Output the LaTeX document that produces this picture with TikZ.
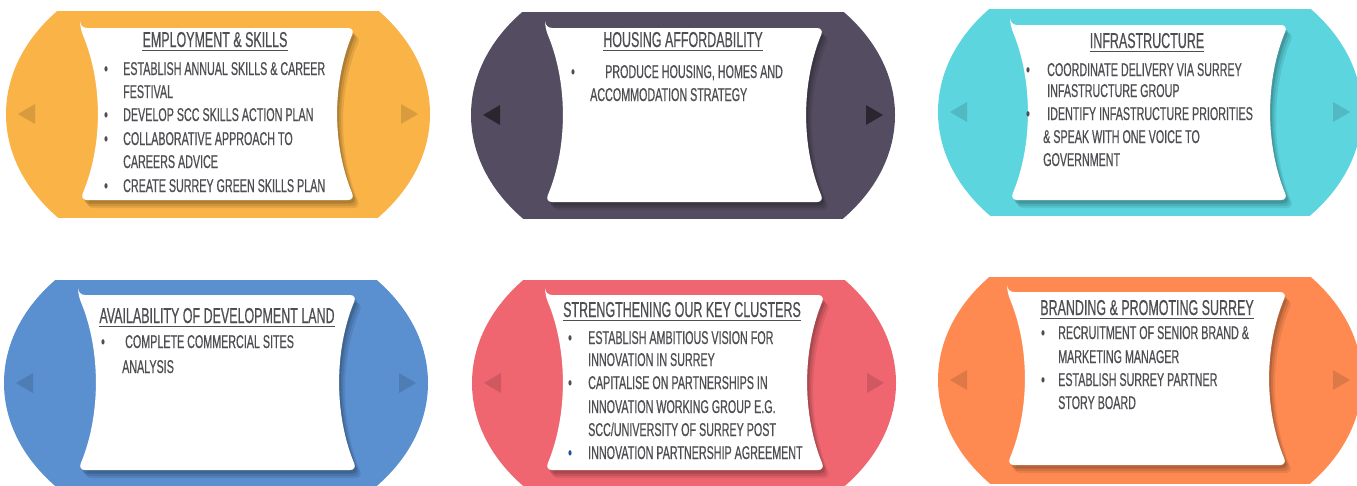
\documentclass[tikz,border=0pt]{standalone}
\usepackage{fontspec}
\setmainfont{Liberation Sans}[FakeStretch=0.58,FakeBold=0.5]
\definecolor{EmpCol}{RGB}{249,179,71}
\definecolor{HouCol}{RGB}{84,77,97}
\definecolor{InfCol}{RGB}{92,213,222}
\definecolor{LandCol}{RGB}{90,143,208}
\definecolor{CluCol}{RGB}{239,102,112}
\definecolor{BrandCol}{RGB}{254,138,82}
\definecolor{TxtCol}{RGB}{78,78,82}
\definecolor{DotCol}{RGB}{30,80,160}
\newcommand{\headsize}{\fontsize{21.5}{24}\selectfont}
\newcommand{\itemsize}{\fontsize{18.5}{22}\selectfont}
% coloured tile: centre x, centre y, colour, arrow opacity
\newcommand{\tile}[4]{%
  \begin{scope}
    \clip (#1-216,#2-103) rectangle (#1+216,#2+103);
    \fill[#3] (#1,#2) ellipse [x radius=212, y radius=158];
  \end{scope}
  \fill[black,opacity=#4] (#1-200,#2) -- (#1-183,#2-10) -- (#1-183,#2+10) -- cycle;
  \fill[black,opacity=#4] (#1+200,#2) -- (#1+183,#2-10) -- (#1+183,#2+10) -- cycle;}
% white card with hollow sides: left, top, right, bottom
\newcommand{\card}[4]{%
  \fill[white,rounded corners=7pt,
        preaction={fill=black,opacity=0.08,transform canvas={shift={(6pt,-8pt)}}},
        preaction={fill=black,opacity=0.10,transform canvas={shift={(4pt,-6pt)}}},
        preaction={fill=black,opacity=0.14,transform canvas={shift={(2pt,-3.5pt)}}}]
    (#1,#2) -- (#3,#2) .. controls (#3-23,#2+55) and (#3-23,#4-55) .. (#3,#4)
    -- (#1,#4) .. controls (#1+23,#4-55) and (#1+23,#2+55) .. cycle;}
\tikzset{
  head/.style={font=\headsize, text=TxtCol, anchor=base, inner sep=0pt},
  txt/.style={font=\itemsize, text=TxtCol, anchor=base west, inner sep=0pt},
  bul/.style={font=\itemsize, text=TxtCol, anchor=base, inner sep=0pt},
  rule/.style={draw=TxtCol, line width=1.2pt}
}
\begin{document}
\begin{tikzpicture}[x=1pt,y=-1pt]
\useasboundingbox (0,0) rectangle (1357,485);

% top row
\tile{218}{114}{EmpCol}{0.13}
\tile{683}{115}{HouCol}{0.5}
\tile{1150}{112}{InfCol}{0.13}
\card{80}{28}{355}{200}
\card{545}{28}{824}{202}
\card{1010}{25}{1288}{200}

% bottom row
\tile{216}{383}{LandCol}{0.13}
\tile{684}{383}{CluCol}{0.13}
\tile{1150}{380}{BrandCol}{0.13}
\card{78}{295}{357}{470}
\card{545}{295}{825}{470}
\card{1007}{292}{1287}{465}

% employment & skills
\node[head] (emp) at (215,47) {EMPLOYMENT \& SKILLS};
\draw[rule] ([yshift=-3pt]emp.south west) -- ([yshift=-3pt]emp.south east);
\node[bul] (emp1d) at (106,75) {\textbullet};
\node[txt] (emp1) at (123,75) {ESTABLISH ANNUAL SKILLS \& CAREER};
\node[txt] (emp1b) at (123,98) {FESTIVAL};
\node[bul] (emp2d) at (106,121) {\textbullet};
\node[txt] (emp2) at (123,121) {DEVELOP SCC SKILLS ACTION PLAN};
\node[bul] (emp3d) at (106,145) {\textbullet};
\node[txt] (emp3) at (123,145) {COLLABORATIVE APPROACH TO};
\node[txt] (emp3b) at (123,168) {CAREERS ADVICE};
\node[bul] (emp4d) at (106,192) {\textbullet};
\node[txt] (emp4) at (123,192) {CREATE SURREY GREEN SKILLS PLAN};

% housing
\node[head] (hou) at (683,47) {HOUSING AFFORDABILITY};
\draw[rule] ([yshift=-3pt]hou.south west) -- ([yshift=-3pt]hou.south east);
\node[bul] (hou1d) at (573,78) {\textbullet};
\node[txt] (hou1) at (605,78) {PRODUCE HOUSING, HOMES AND};
\node[txt] (hou1b) at (590,101) {ACCOMMODATION STRATEGY};

% infrastructure
\node[head] (inf) at (1147,48) {INFRASTRUCTURE};
\draw[rule] ([yshift=-3pt]inf.south west) -- ([yshift=-3pt]inf.south east);
\node[bul] (inf1d) at (1028,76) {\textbullet};
\node[txt] (inf1) at (1047,76) {COORDINATE DELIVERY VIA SURREY};
\node[txt] (inf1b) at (1047,97) {INFASTRUCTURE GROUP};
\node[bul] (inf2d) at (1028,120) {\textbullet};
\node[txt] (inf2) at (1047,120) {IDENTIFY INFASTRUCTURE PRIORITIES};
\node[txt] (inf2b) at (1043,143) {\& SPEAK WITH ONE VOICE TO};
\node[txt] (inf2c) at (1043,166) {GOVERNMENT};

% development land
\node[head] (land) at (217,323) {AVAILABILITY OF DEVELOPMENT LAND};
\draw[rule] ([yshift=-3pt]land.south west) -- ([yshift=-3pt]land.south east);
\node[bul] (land1d) at (103,348) {\textbullet};
\node[txt] (land1) at (125,348) {COMPLETE COMMERCIAL SITES};
\node[txt] (land1b) at (122,373) {ANALYSIS};

% key clusters
\node[head] (clu) at (682,317) {STRENGTHENING OUR KEY CLUSTERS};
\draw[rule] ([yshift=-3pt]clu.south west) -- ([yshift=-3pt]clu.south east);
\node[bul] (clu1d) at (570,344) {\textbullet};
\node[txt] (clu1) at (588,344) {ESTABLISH AMBITIOUS VISION FOR};
\node[txt] (clu1b) at (588,366) {INNOVATION IN SURREY};
\node[bul] (clu2d) at (570,389) {\textbullet};
\node[txt] (clu2) at (588,389) {CAPITALISE ON PARTNERSHIPS IN};
\node[txt] (clu2b) at (588,413) {INNOVATION WORKING GROUP E.G.};
\node[txt] (clu2c) at (588,436) {SCC/UNIVERSITY OF SURREY POST};
\node[bul,text=DotCol] (clu3d) at (570,459) {\textbullet};
\node[txt] (clu3) at (588,459) {INNOVATION PARTNERSHIP AGREEMENT};

% branding
\node[head] (bra) at (1147,315) {BRANDING \& PROMOTING SURREY};
\draw[rule] ([yshift=-3pt]bra.south west) -- ([yshift=-3pt]bra.south east);
\node[bul] (bra1d) at (1043,339) {\textbullet};
\node[txt] (bra1) at (1058,339) {RECRUITMENT OF SENIOR BRAND \&};
\node[txt] (bra1b) at (1058,363) {MARKETING MANAGER};
\node[bul] (bra2d) at (1043,386) {\textbullet};
\node[txt] (bra2) at (1058,386) {ESTABLISH SURREY PARTNER};
\node[txt] (bra2b) at (1058,409) {STORY BOARD};
\end{tikzpicture}
\end{document}
